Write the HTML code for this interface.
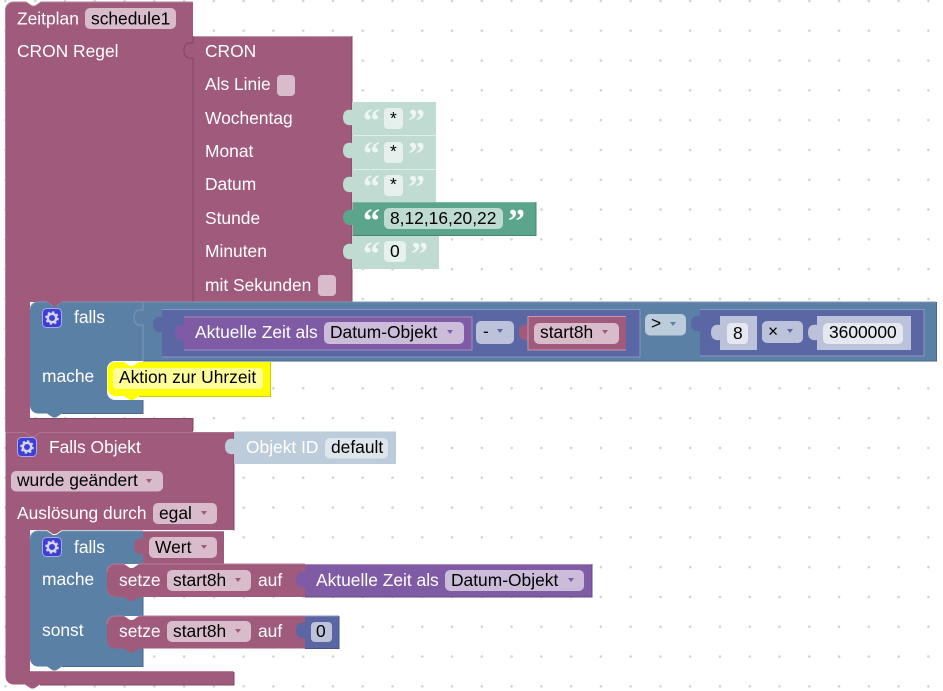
<!DOCTYPE html>
<html><head><meta charset="utf-8"><style>
html,body{margin:0;padding:0;background:#fff;width:943px;height:691px;overflow:hidden}
svg{display:block}
text{font-family:"Liberation Sans",sans-serif;font-size:17.4px;fill:#fff;white-space:pre}
.k{fill:#000}
.q{font-family:"Liberation Serif",serif;font-weight:bold;font-size:34px}
.qs{fill:#eef6f3}
</style></head><body>
<svg width="943" height="691" viewBox="0 0 943 691" xmlns="http://www.w3.org/2000/svg">
<defs>
<pattern id="g" x="4" y="-0.6" width="29.77" height="29.8" patternUnits="userSpaceOnUse"><circle cx="1.5" cy="1.5" r="1.3" fill="#d2d2d2"/></pattern>
<g id="gear"><rect x="0.5" y="0.5" width="19" height="19" rx="4" fill="#3f3fd6" stroke="#a9a9e6"/><circle cx="10" cy="10" r="4.2" fill="none" stroke="#d5d5f5" stroke-width="2.4"/><circle cx="10" cy="10" r="5.8" fill="none" stroke="#d5d5f5" stroke-width="2" stroke-dasharray="2.2 2.35"/></g>
</defs>
<rect width="943" height="691" fill="url(#g)"/>

<!-- Zeitplan block -->
<path d="M5.5,10a8,8 0 0 1 8,-8H26l6,4h3l6,-4H193V302H62l-6,4h-3l-6,-4H30V418H193V432H40l-6,4h-3l-6,-4H5.5Z" fill="#a05a7c"/>
<path d="M5.5,431.5V10a8,8 0 0 1 8,-8H26l6,4h3l6,-4H192.5" fill="none" stroke="#b57f99"/>
<path d="M30,418.5H193V431" fill="none" stroke="#804863"/>

<!-- CRON block -->
<rect x="193" y="36" width="159" height="266" fill="#a05a7c"/>
<path d="M193,36.5H352" stroke="#c397ad" fill="none"/>
<path d="M352,36V302" stroke="#804863" fill="none"/>
<path d="M193,36V43c-6,-1 -9,2 -9,7.500s3,8.500 9,7.500V302" stroke="#804863" fill="none"/>

<!-- cron text inputs -->
<g fill="#c0dbd2">
<path d="M352,102H436V135.500H352V125c-6,1 -9,-2 -9,-7.500s3,-8.500 9,-7.500Z"/>
<path d="M352,136H436V169H352V158c-6,1 -9,-2 -9,-7.500s3,-8.500 9,-7.500Z"/>
<path d="M352,169.500H436V202H352V192c-6,1 -9,-2 -9,-7.500s3,-8.500 9,-7.500Z"/>
<path d="M352,236H439V269H352V259c-6,1 -9,-2 -9,-7.500s3,-8.500 9,-7.500Z"/>
</g>
<path d="M353,202H536V235.500H353V225c-6,1 -10,-2 -10,-7.500s4,-8.500 10,-7.500Z" fill="#5ba58c"/>
<path d="M353,202.500H536" stroke="#7db8a4" fill="none"/>
<path d="M536,202V235.500H353" stroke="#498470" fill="none"/>

<!-- Falls 1 -->
<path d="M30,310a8,8 0 0 1 8,-8H47l6,4h3l6,-4H936.500V361H115a8,8 0 0 0 -8,8V392a8,8 0 0 0 8,8H143V413.500H62l-6,4h-3l-6,-4H38a8,8 0 0 1 -8,-8Z" fill="#5b80a5"/>
<path d="M30,310a8,8 0 0 1 8,-8H47M62,302H936" fill="none" stroke="#7c99b7"/>
<path d="M936.500,302V361H143M143,400V413.500H62" fill="none" stroke="#49668a"/>
<path d="M143,303V310c-6,-1 -9,2 -9,7.500s3,8.500 9,7.500V361" fill="none" stroke="#7c99b7"/>

<!-- left indigo compare term -->
<path d="M162,309H640V357H162V332c-6,1 -9,-2 -9,-7.500s3,-8.500 9,-7.500Z" fill="#5b67a5"/>
<path d="M162,309.500H640M640,309V357H162" fill="none" stroke="#8c95bf"/>
<path d="M184,316.500H472V350H184V340c-6,1 -9,-2 -9,-7.500s3,-8.500 9,-7.500Z" fill="#7f5ba5"/>
<path d="M184,317H472V350H184" fill="none" stroke="#a58cc1"/>
<path d="M528,316H626V350H528V340c-6,1 -9,-2 -9,-7.500s3,-8.500 9,-7.500Z" fill="#a05a7c"/>
<path d="M528,316.500H626M528,316V350H626" fill="none" stroke="#c397ad"/>

<!-- right indigo term -->
<path d="M700,309H924V356H700V331c-6,1 -9,-2 -9,-7.500s3,-8.500 9,-7.500Z" fill="#5b67a5"/>
<path d="M700,309.500H924M924,309V356H700" fill="none" stroke="#8c95bf"/>
<path d="M720,316H757V350H720V340c-6,1 -9,-2 -9,-7.500s3,-8.500 9,-7.500Z" fill="#bdc2db"/>
<path d="M817,316H911V350H817V340c-6,1 -9,-2 -9,-7.500s3,-8.500 9,-7.500Z" fill="#bdc2db"/>

<!-- Aktion block -->
<path d="M107.500,370a8,8 0 0 1 8,-8H124l6,4h3l6,-4H270V396H139l-6,4h-3l-6,-4H115.500a8,8 0 0 1 -8,-8Z" fill="#ffff00"/>
<path d="M270.500,362V396.500H139" fill="none" stroke="#cccc00"/>
<rect x="113" y="368" width="150" height="21" rx="4" fill="#ffff99"/>

<!-- Falls Objekt block -->
<path d="M5.500,432H233.500V530H62l-6,4h-3l-6,-4H30V672H233.500V684.500H40l-6,4h-3l-6,-4H13.500a8,8 0 0 1 -8,-8Z" fill="#a05a7c"/>
<path d="M5.500,432.500H25l6,4h3l6,-4H233.500" fill="none" stroke="#b57f99" stroke-opacity=".7"/>
<path d="M30,671.500H233.500" fill="none" stroke="#b57f99"/>
<path d="M234,432V530.500M234,672V685H40" fill="none" stroke="#804863"/>
<path d="M234,431.500H396V464H234V454c-6,1 -9,-2 -9,-7.500s3,-8.500 9,-7.500Z" fill="#bdccdb"/>

<!-- Falls 2 -->
<path d="M30,539a8,8 0 0 1 8,-8H47l6,4h3l6,-4H143V564H115a8,8 0 0 0 -8,8V589a8,8 0 0 0 8,8H143V616H115a8,8 0 0 0 -8,8V640a8,8 0 0 0 8,8H143V666.500H62l-6,4h-3l-6,-4H38a8,8 0 0 1 -8,-8Z" fill="#5b80a5"/>
<path d="M30,539a8,8 0 0 1 8,-8H47M62,531H143" fill="none" stroke="#7c99b7"/>
<path d="M143,597V616M143,648V666.500H62" fill="none" stroke="#49668a"/>

<!-- Wert -->
<path d="M143,531H224V564H143V554c-6,1 -9,-2 -9,-7.500s3,-8.500 9,-7.500Z" fill="#a05a7c"/>
<path d="M143,531.500H224" stroke="#b57f99" fill="none"/>

<!-- setze 1 -->
<path d="M107,572a8,8 0 0 1 8,-8H124l6,4h3l6,-4H305V597H139l-6,4h-3l-6,-4H115a8,8 0 0 1 -8,-8Z" fill="#a05a7c"/>
<path d="M107,572a8,8 0 0 1 8,-8H124M139,564H305" fill="none" stroke="#b57f99"/>
<path d="M305,564H592V597H305V587c-6,1 -9,-2 -9,-7.500s3,-8.500 9,-7.500Z" fill="#7f5ba5"/>
<path d="M305,564.500H592" fill="none" stroke="#a58cc1"/>
<path d="M592,564V597H305" fill="none" stroke="#664984"/>

<!-- setze 2 -->
<path d="M107,624a8,8 0 0 1 8,-8H124l6,4h3l6,-4H305V648.500H139l-6,4h-3l-6,-4H115a8,8 0 0 1 -8,-8Z" fill="#a05a7c"/>
<path d="M107,624a8,8 0 0 1 8,-8H124M139,616H305" fill="none" stroke="#b57f99"/>
<path d="M305,615.500H339V648.500H305V638c-6,1 -9,-2 -9,-7.500s3,-8.500 9,-7.500Z" fill="#5b67a5"/>
<path d="M339,616V648.500H305" fill="none" stroke="#495284"/>
<path d="M305,616H339" fill="none" stroke="#8c95bf"/>

<!-- fields -->
<g>
<g fill="#d9bccb">
<rect x="85" y="8" width="91" height="21" rx="5"/>
<rect x="277" y="75" width="18" height="21" rx="4"/>
<rect x="318" y="275" width="18" height="21" rx="4"/>
<rect x="534" y="323" width="85" height="21" rx="5"/>
<rect x="11" y="471" width="152" height="20.500" rx="5"/>
<rect x="153" y="503" width="64" height="21" rx="5"/>
<rect x="149" y="537" width="68" height="21" rx="5"/>
<rect x="167" y="570" width="84" height="21" rx="5"/>
<rect x="167" y="621" width="84" height="21" rx="5"/>
</g>
<g fill="#e6f1ed">
<rect x="384" y="108" width="19" height="21" rx="4"/>
<rect x="384" y="142" width="19" height="21" rx="4"/>
<rect x="384" y="175" width="19" height="21" rx="4"/>
<rect x="384" y="241" width="22" height="21" rx="4"/>
</g>
<rect x="384" y="208" width="119" height="21" rx="5" fill="#bddbd1"/>
<g fill="#cbbdda">
<rect x="324" y="322" width="140" height="22" rx="5"/>
<rect x="445" y="570" width="139" height="21" rx="5"/>
</g>
<g fill="#bdc2db">
<rect x="476" y="321" width="38" height="23" rx="5"/>
<rect x="311" y="622" width="21" height="20" rx="4"/>
</g>
<rect x="645" y="314" width="41" height="21.500" rx="5" fill="#bdccdb"/>
<rect x="762" y="321" width="41" height="22" rx="5" fill="#bdc2db"/>
<rect x="727" y="323" width="21" height="21" rx="4" fill="#e5e7f1"/>
<rect x="823" y="323" width="80" height="21" rx="5" fill="#e5e7f1"/>
<rect x="325" y="438" width="63" height="20.500" rx="5" fill="#dee6ed"/>
</g>

<!-- dropdown arrows -->
<g>
<path d="M146,479h6l-3,4z" fill="#a05a7c"/>
<path d="M201,511h6l-3,4z" fill="#a05a7c"/>
<path d="M201,545h6l-3,4z" fill="#a05a7c"/>
<path d="M235,578h6l-3,4z" fill="#a05a7c"/>
<path d="M235,629h6l-3,4z" fill="#a05a7c"/>
<path d="M602,330h6l-3,4z" fill="#a05a7c"/>
<path d="M447,330h6l-3,4z" fill="#7f5ba5"/>
<path d="M568,578h6l-3,4z" fill="#7f5ba5"/>
<path d="M497,329h6l-3,4z" fill="#5b67a5"/>
<path d="M670,322h6l-3,4z" fill="#5b80a5"/>
<path d="M787,329h6l-3,4z" fill="#5b67a5"/>
</g>

<!-- gears -->
<use href="#gear" x="42" y="308"/>
<use href="#gear" x="17" y="437"/>
<use href="#gear" x="42" y="537"/>

<!-- text -->
<text x="17" y="24.500">Zeitplan</text>
<text x="91" y="24.500" class="k">schedule1</text>
<text x="17" y="57">CRON Regel</text>
<text x="205" y="57">CRON</text>
<text x="205" y="90">Als Linie</text>
<text x="205" y="124">Wochentag</text>
<text x="205" y="157">Monat</text>
<text x="205" y="190">Datum</text>
<text x="205" y="224">Stunde</text>
<text x="205" y="257">Minuten</text>
<text x="205" y="291">mit Sekunden</text>

<text x="363" y="132" class="q qs">“</text><text x="408" y="132" class="q qs">”</text>
<text x="363" y="165" class="q qs">“</text><text x="408" y="165" class="q qs">”</text>
<text x="363" y="198" class="q qs">“</text><text x="408" y="198" class="q qs">”</text>
<text x="363" y="232" class="q">“</text><text x="508" y="232" class="q">”</text>
<text x="363" y="265" class="q qs">“</text><text x="411" y="265" class="q qs">”</text>
<text x="390" y="124" class="k">*</text>
<text x="390" y="157" class="k">*</text>
<text x="390" y="190" class="k">*</text>
<text x="390" y="224" class="k">8,12,16,20,22</text>
<text x="390" y="257" class="k">0</text>

<text x="74" y="323">falls</text>
<text x="195" y="338">Aktuelle Zeit als</text>
<text x="330" y="338" class="k">Datum-Objekt</text>
<text x="483" y="337" class="k">-</text>
<text x="540" y="338" class="k">start8h</text>
<text x="651" y="329" class="k">&gt;</text>
<text x="733" y="339" class="k">8</text>
<text x="768" y="337" class="k">×</text>
<text x="829" y="338" class="k">3600000</text>
<text x="42" y="382">mache</text>
<text x="119" y="383" class="k">Aktion zur Uhrzeit</text>

<text x="49" y="453">Falls Objekt</text>
<text x="246" y="453">Objekt ID</text>
<text x="331" y="453" class="k">default</text>
<text x="17" y="486" class="k">wurde geändert</text>
<text x="17" y="519">Auslösung durch</text>
<text x="159" y="519" class="k">egal</text>
<text x="74" y="553">falls</text>
<text x="155" y="553" class="k">Wert</text>
<text x="42" y="585">mache</text>
<text x="119" y="586">setze</text>
<text x="173" y="586" class="k">start8h</text>
<text x="258" y="586">auf</text>
<text x="316" y="586">Aktuelle Zeit als</text>
<text x="451" y="586" class="k">Datum-Objekt</text>
<text x="42" y="636">sonst</text>
<text x="119" y="637">setze</text>
<text x="173" y="637" class="k">start8h</text>
<text x="258" y="637">auf</text>
<text x="316" y="637" class="k">0</text>
</svg>
</body></html>
